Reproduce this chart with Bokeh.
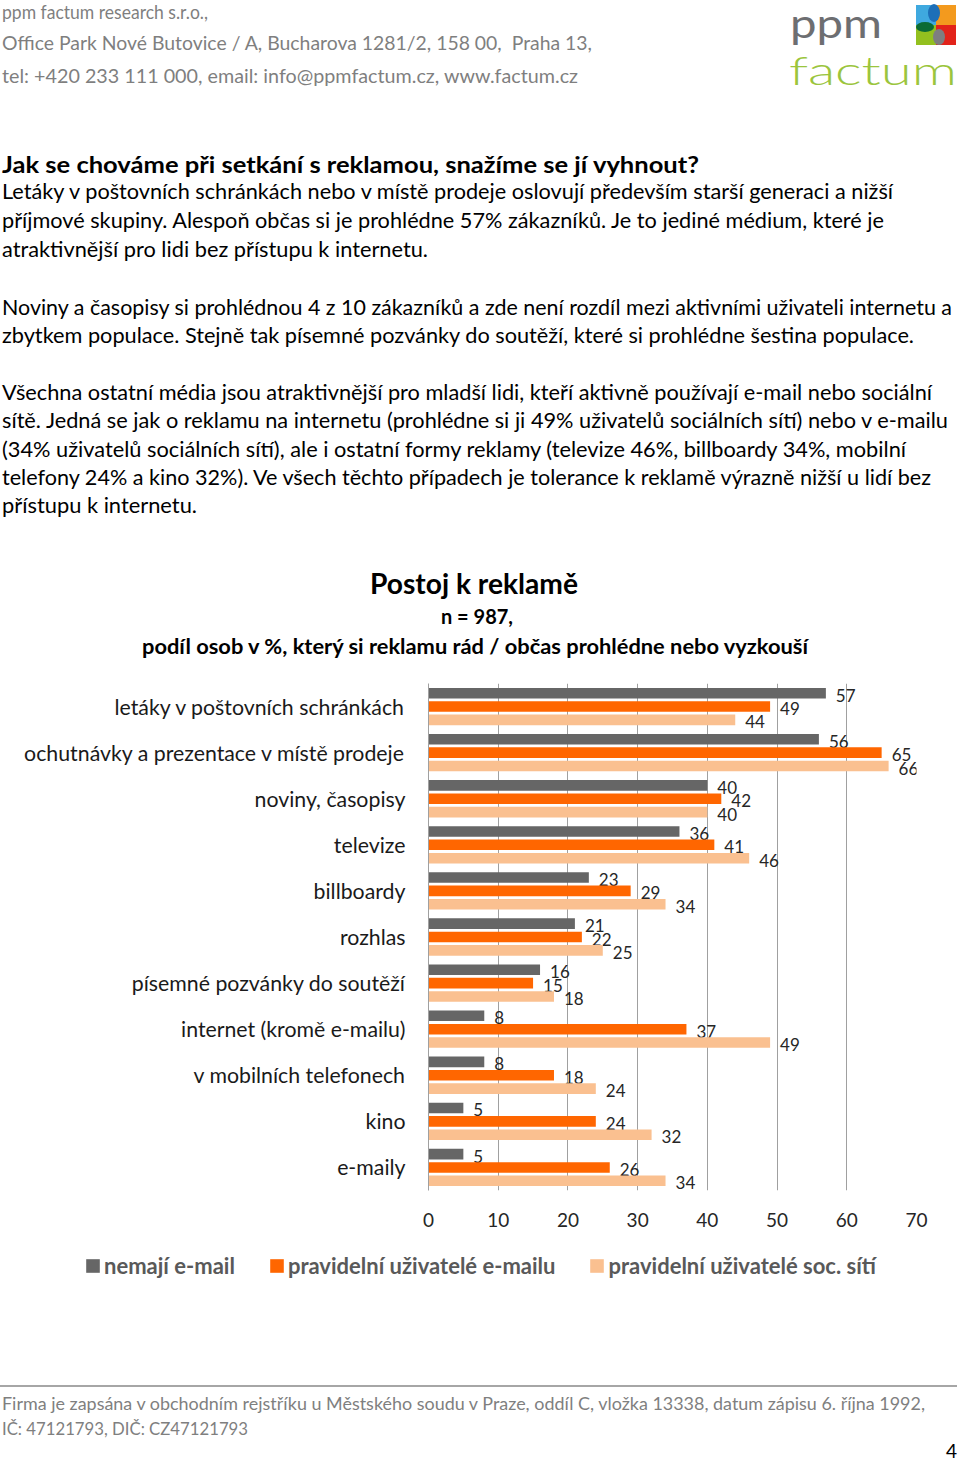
import html
from bokeh.plotting import figure
from bokeh.models import (ColumnDataSource, FactorRange, Range1d, FixedTicker,
                          Legend, LegendItem, Div)
from bokeh.layouts import column, row
from bokeh.transform import dodge
from bokeh.core.properties import value
from bokeh.embed import file_html
from bokeh.resources import INLINE

FONT = "Lato"

# ---------------- data ----------------
categories = [
    "letáky v poštovních schránkách",
    "ochutnávky a prezentace v místě prodeje",
    "noviny, časopisy",
    "televize",
    "billboardy",
    "rozhlas",
    "písemné pozvánky do soutěží",
    "internet (kromě e-mailu)",
    "v mobilních telefonech",
    "kino",
    "e-maily",
]
nemaji_email = [57, 56, 40, 36, 23, 21, 16, 8, 8, 5, 5]
uzivatele_emailu = [49, 65, 42, 41, 29, 22, 15, 37, 18, 24, 26]
uzivatele_soc_siti = [44, 66, 40, 46, 34, 25, 18, 49, 24, 32, 34]
series_names = ["nemají e-mail", "pravidelní uživatelé e-mailu",
                "pravidelní uživatelé soc. sítí"]
x_ticks = [0, 10, 20, 30, 40, 50, 60, 70]

chart_title = "Postoj k reklamě"
chart_n = "n = 987,"
chart_subtitle = "podíl osob v %, který si reklamu rád / občas prohlédne nebo vyzkouší"

company_lines = [
    "ppm factum research s.r.o.,",
    "Office Park Nové Butovice / A, Bucharova 1281/2, 158 00,  Praha 13,",
    "tel: +420 233 111 000, email: info@ppmfactum.cz, www.factum.cz",
]
heading = "Jak se chováme při setkání s reklamou, snažíme se jí vyhnout?"
paragraph_lines = [
    "Letáky v poštovních schránkách nebo v místě prodeje oslovují především starší generaci a nižší",
    "příjmové skupiny. Alespoň občas si je prohlédne 57% zákazníků. Je to jediné médium, které je",
    "atraktivnější pro lidi bez přístupu k internetu.",
    "Noviny a časopisy si prohlédnou 4 z 10 zákazníků a zde není rozdíl mezi aktivními uživateli internetu a",
    "zbytkem populace. Stejně tak písemné pozvánky do soutěží, které si prohlédne šestina populace.",
    "Všechna ostatní média jsou atraktivnější pro mladší lidi, kteří aktivně používají e-mail nebo sociální",
    "sítě. Jedná se jak o reklamu na internetu (prohlédne si ji 49% uživatelů sociálních sítí) nebo v e-mailu",
    "(34% uživatelů sociálních sítí), ale i ostatní formy reklamy (televize 46%, billboardy 34%, mobilní",
    "telefony 24% a kino 32%). Ve všech těchto případech je tolerance k reklamě výrazně nižší u lidí bez",
    "přístupu k internetu.",
]
footer_lines = [
    "Firma je zapsána v obchodním rejstříku u Městského soudu v Praze, oddíl C, vložka 13338, datum zápisu 6. října 1992,",
    "IČ: 47121793, DIČ: CZ47121793",
]
page_number = "4"

# ---------------- layout / style (kept apart from data) ----------------
company_layout = [(2, 19, 206), (2, 50, 590), (2, 83, 576)]          # x, baseline, width
heading_layout = (2, 173, 697)
paragraph_layout = [(2, 199, 891), (2, 228, 882), (2, 257, 426),
                    (2, 315, 950), (2, 343, 912),
                    (2, 400, 930), (2, 428, 946), (2, 457, 904), (2, 485, 929), (2, 513, 195)]
title_layout = [(474, 594, 208, 28), (477, 624, 72, 20), (475, 654, 666, 21)]   # centre x, baseline, width, size
footer_layout = [(2, 120, 923), (2, 145, 246)]
series_colors = ["#666666", "#FF6600", "#FAC090"]

HEADER_H = 663
FRAME_TOP, FRAME_BOTTOM = 683, 1190
CHART_BOTTOM = 1240
LEGEND_H = 50
FOOT_H = 1462 - CHART_BOTTOM - LEGEND_H


def svg_text(x, y, txt, size, color, length=None, weight="normal", anchor="start"):
    extra = ""
    if length is not None:
        extra = f' textLength="{length}" lengthAdjust="spacingAndGlyphs"'
    style = (f"font-family:{FONT};font-size:{size}px;font-weight:{weight};"
             f"fill:{color};white-space:pre")
    return (f'<text x="{x}" y="{y}" text-anchor="{anchor}" style="{style}"'
            f'{extra}>{html.escape(txt)}</text>')


parts = [f'<svg xmlns="http://www.w3.org/2000/svg" width="960" height="{HEADER_H}" style="display:block">']
for txt, (x, y, w) in zip(company_lines, company_layout):
    parts.append(svg_text(x, y, txt, 19, "#7F7F7F", w))
# logo
parts.append(svg_text(790, 38, "ppm", 40, "#6D6E71", 92, weight="normal"))
parts.append(svg_text(789, 85, "factum", 40, "#9BC53D", 168, weight="300"))
parts.append('<rect x="916" y="5" width="20" height="20" fill="#3FA9DF"/>'
             '<rect x="936" y="5" width="20" height="20" fill="#F39A1E"/>'
             '<rect x="916" y="25" width="20" height="20" fill="#93C01F"/>'
             '<rect x="936" y="25" width="20" height="20" fill="#E2231A"/>'
             '<ellipse cx="934" cy="13" rx="6" ry="9" fill="#1D6FB8"/>'
             '<ellipse cx="925" cy="27" rx="9" ry="5" fill="#0B6B35"/>'
             '<ellipse cx="939" cy="37" rx="6" ry="8" fill="#7E7E80"/>')
x, y, w = heading_layout
parts.append(svg_text(x, y, heading, 23, "#000000", w, weight="bold"))
for txt, (x, y, w) in zip(paragraph_lines, paragraph_layout):
    parts.append(svg_text(x, y, txt, 21.5, "#000000", w))
for txt, (x, y, w, s) in zip([chart_title, chart_n, chart_subtitle], title_layout):
    parts.append(svg_text(x, y, txt, s, "#000000", w, weight="bold", anchor="middle"))
parts.append('</svg>')
header = Div(text="".join(parts), width=960, height=HEADER_H, margin=0)

# ---------------- chart ----------------
factors = list(reversed(categories))
source = ColumnDataSource(dict(
    cat=categories,
    a=nemaji_email, b=uzivatele_emailu, c=uzivatele_soc_siti,
    a_lbl=[str(v) for v in nemaji_email],
    b_lbl=[str(v) for v in uzivatele_emailu],
    c_lbl=[str(v) for v in uzivatele_soc_siti],
))

p = figure(width=960, height=CHART_BOTTOM - HEADER_H, output_backend="svg", toolbar_location=None,
           y_range=FactorRange(factors=factors), x_range=Range1d(0, 70),
           min_border_left=428, min_border_right=44,
           min_border_top=FRAME_TOP - HEADER_H, min_border_bottom=CHART_BOTTOM - FRAME_BOTTOM)
p.title.text = ""
p.title.text_font_size = "0px"
p.title.standoff = 0
p.outline_line_color = None
p.background_fill_color = "white"
p.border_fill_color = "white"

offsets = [0.29, 0.0, -0.29]
cols = ["a", "b", "c"]
for col, off, color in zip(cols, offsets, series_colors):
    p.hbar(y=dodge("cat", off, range=p.y_range), left=0, right=col, height=0.23,
           source=source, fill_color=color, line_color=None)
    p.text(x=col, y=dodge("cat", off, range=p.y_range), text=f"{col}_lbl", source=source,
           x_offset=10, y_offset=2, text_baseline="middle", text_align="left",
           text_font=value(FONT), text_font_size="17px", text_color="#262626")

p.xaxis.ticker = FixedTicker(ticks=x_ticks)
p.xaxis.axis_line_color = None
p.xaxis.major_tick_line_color = None
p.xaxis.minor_tick_line_color = None
p.xaxis.major_tick_out = 0
p.xaxis.major_label_standoff = 22
p.xaxis.major_label_text_font = FONT
p.xaxis.major_label_text_font_size = "19px"
p.xaxis.major_label_text_color = "#262626"

p.yaxis.axis_line_color = "#A0A0A0"
p.yaxis.major_tick_line_color = None
p.yaxis.minor_tick_line_color = None
p.yaxis.major_tick_out = 0
p.yaxis.major_label_standoff = 23
p.yaxis.major_label_text_font = FONT
p.yaxis.major_label_text_font_size = "21.3px"
p.yaxis.major_label_text_color = "#1A1A1A"

p.ygrid.grid_line_color = None
p.xgrid.grid_line_color = "#A0A0A0"
p.xgrid.grid_line_width = 1
p.xgrid.ticker = FixedTicker(ticks=x_ticks)

# ---------------- legend row (own figure, swatches follow the series' glyphs) ----------------
lg = figure(width=960, height=LEGEND_H, output_backend="svg", toolbar_location=None,
            x_range=Range1d(0, 1), y_range=Range1d(0, 1),
            x_axis_type=None, y_axis_type=None,
            min_border=0, min_border_left=0, min_border_right=0,
            min_border_top=0, min_border_bottom=0)
lg.title.text = ""
lg.title.text_font_size = "0px"
lg.title.standoff = 0
lg.outline_line_color = None
lg.background_fill_color = "white"
lg.border_fill_color = "white"
swatches = [lg.hbar(y=col, left=0, right=col, height=0.5, source=source,
                    fill_color=c, line_color=None, visible=False)
            for col, c in zip(cols, series_colors)]
legend = Legend(items=[LegendItem(label=n, renderers=[r]) for n, r in zip(series_names, swatches)],
                orientation="horizontal", location=(84, 11),
                glyph_width=17, glyph_height=17, label_standoff=3, spacing=33,
                padding=0, margin=0, border_line_alpha=0, background_fill_alpha=0,
                inactive_fill_alpha=0,
                label_text_font=FONT, label_text_font_size="22px",
                label_text_font_style="bold", label_text_color="#595959")
lg.add_layout(legend, "center")

# ---------------- footer ----------------
fparts = [f'<svg xmlns="http://www.w3.org/2000/svg" width="960" height="{FOOT_H}" style="display:block">',
          '<line x1="0" y1="96" x2="957" y2="96" stroke="#A6A6A6" stroke-width="2"/>']
for txt, (x, y, w) in zip(footer_lines, footer_layout):
    fparts.append(svg_text(x, y, txt, 18, "#7F7F7F", w))
fparts.append(svg_text(957, 168, page_number, 19, "#000000", anchor="end"))
fparts.append('</svg>')
footer = Div(text="".join(fparts), width=960, height=FOOT_H, margin=0)

layout = column(header, p, row(lg, spacing=0), footer, spacing=0)
open("out.html", "w").write(file_html(layout, INLINE))
